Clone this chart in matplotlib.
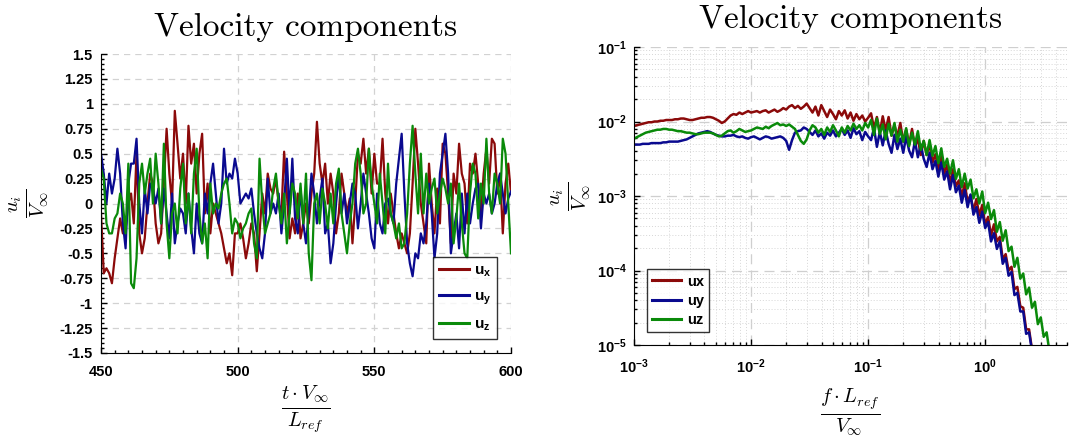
import numpy as np
import matplotlib
matplotlib.use("Agg")
import matplotlib.pyplot as plt
from matplotlib.ticker import MultipleLocator, FixedLocator, LogLocator, FuncFormatter, NullFormatter

# ---- time signal (t*Vinf/Lref = 450 ... 600, unit step) ----
t_start = 450
ux = [-0.10, -0.70, -0.65, -0.70, -0.80, -0.55, -0.35, -0.15, -0.30, -0.25,
      0.00, 0.10, -0.20, 0.50, -0.30, -0.50, -0.35, 0.00, 0.30, 0.20,
      -0.20, -0.40, -0.30, 0.20, 0.75, 0.30, 0.00, 0.93, 0.60, 0.25,
      0.50, 0.00, 0.78, 0.40, 0.60, 0.10, 0.50, 0.70, -0.10, 0.20,
      -0.30, 0.00, -0.10, -0.20, -0.30, -0.45, -0.60, -0.50, -0.72, -0.30,
      -0.30, -0.20, -0.35, -0.55, -0.40, -0.20, -0.30, -0.68, -0.30, 0.10,
      -0.10, 0.30, 0.15, 0.10, 0.25, 0.00, -0.10, 0.52, 0.10, -0.35,
      -0.15, -0.30, 0.10, -0.35, -0.20, 0.00, -0.20, 0.10, 0.30, 0.82,
      0.40, 0.20, 0.40, 0.00, 0.30, 0.10, -0.30, -0.10, 0.30, 0.10,
      -0.10, 0.05, -0.40, 0.00, 0.50, 0.40, 0.65, 0.30, 0.55, 0.10,
      0.50, 0.20, 0.20, 0.65, 0.10, -0.20, 0.10, -0.10, -0.30, -0.45,
      -0.30, -0.40, -0.50, -0.30, 0.20, 0.75, 0.40, 0.00, -0.20, -0.40,
      0.40, 0.00, -0.30, 0.15, -0.20, 0.60, 0.50, 0.10, -0.40, 0.30,
      0.10, 0.60, 0.30, 0.20, -0.20, 0.40, 0.30, 0.50, 0.20, -0.10,
      0.30, 0.55, 0.20, 0.65, 0.60, 0.10, 0.30, -0.30, 0.20, 0.40,
      0.10]
uy = [0.50, 0.30, 0.00, 0.30, 0.10, 0.25, 0.55, 0.30, -0.20, -0.45,
      0.20, 0.40, 0.40, 0.65, 0.00, -0.30, 0.15, -0.10, 0.20, 0.15,
      0.00, 0.15, -0.20, 0.15, -0.10, -0.35, 0.10, -0.40, -0.20, -0.05,
      -0.10, -0.30, 0.10, -0.25, -0.50, 0.00, -0.30, -0.40, 0.10, -0.10,
      0.20, 0.40, 0.10, -0.20, 0.00, 0.55, 0.20, 0.30, 0.25, 0.45,
      0.30, 0.00, 0.05, 0.10, 0.05, 0.15, -0.10, -0.30, -0.45, -0.55,
      -0.30, 0.25, -0.10, 0.00, -0.10, 0.10, -0.30, 0.00, 0.45, -0.10,
      0.45, -0.15, -0.30, 0.15, -0.20, -0.40, -0.10, 0.30, 0.10, -0.20,
      0.05, 0.25, -0.30, -0.20, -0.60, -0.40, 0.00, 0.30, -0.10, 0.10,
      -0.20, 0.00, 0.20, 0.10, -0.25, 0.00, 0.30, 0.10, -0.10, -0.35,
      -0.45, 0.10, -0.20, -0.30, 0.00, 0.05, -0.10, -0.20, 0.20, 0.45,
      0.70, 0.10, -0.40, -0.60, -0.73, -0.50, -0.55, -0.30, -0.40, -0.20,
      0.20, -0.10, -0.55, -0.30, 0.30, 0.50, 0.70, 0.30, -0.50, -0.30,
      -0.10, -0.45, 0.10, -0.30, 0.10, -0.20, 0.00, 0.15, 0.20, -0.25,
      0.10, 0.00, 0.10, -0.10, 0.00, 0.20, 0.30, 0.10, -0.10, 0.05,
      0.12]
uz = [0.35, 0.25, -0.20, -0.30, -0.30, -0.15, -0.10, 0.10, 0.00, -0.30,
      0.40, -0.80, -0.85, -0.55, 0.20, 0.40, 0.10, 0.30, 0.45, 0.00,
      0.50, 0.20, -0.20, 0.60, -0.20, -0.55, -0.10, 0.00, -0.30, 0.15,
      0.40, -0.20, 0.10, -0.30, 0.30, 0.55, -0.10, -0.40, -0.20, -0.55,
      0.20, -0.10, 0.00, -0.05, 0.10, 0.20, 0.25, 0.00, -0.30, -0.15,
      -0.20, -0.35, -0.25, -0.20, -0.10, -0.05, -0.40, -0.55, 0.45, 0.00,
      -0.30, -0.20, -0.10, 0.15, 0.30, 0.00, -0.20, 0.10, -0.40, -0.10,
      0.20, 0.10, -0.15, 0.20, -0.20, 0.30, -0.50, -0.77, 0.00, 0.10,
      -0.20, 0.15, 0.00, -0.25, 0.10, -0.20, 0.20, 0.35, -0.10, -0.30,
      -0.50, -0.20, 0.00, 0.40, 0.55, 0.30, -0.10, 0.00, 0.55, 0.20,
      0.00, -0.20, 0.30, 0.00, -0.30, 0.40, -0.10, -0.20, -0.35, -0.20,
      -0.45, -0.40, -0.10, 0.40, 0.78, 0.30, -0.10, 0.50, -0.10, 0.30,
      0.00, 0.15, 0.25, -0.10, 0.10, 0.25, 0.15, 0.00, 0.20, -0.40,
      -0.15, 0.20, -0.20, -0.50, -0.55, 0.10, 0.40, 0.30, -0.15, 0.20,
      0.00, 0.65, 0.10, -0.10, 0.30, 0.20, 0.00, 0.65, 0.50, 0.00,
      -0.50]

# ---- spectra: log10 amplitude on a log10(f*Lref/Vinf) grid from -3, step 0.025 ----
logf_start, logf_step = -3.0, 0.025
ux_spec_log = [
    -2.06, -2.05, -2.04, -2.03, -2.02, -2.01, -2.01, -2.00, -2.00, -1.99,
    -1.99, -1.98, -1.98, -1.98, -1.97, -1.97, -1.96, -1.96, -1.97, -1.98,
    -1.98, -1.97, -1.96, -1.95, -1.95,
    -1.94, -1.94, -1.95, -1.97, -1.99, -2.02, -2.00, -1.96, -1.92, -1.90,
    -1.91, -1.88, -1.90, -1.88, -1.86, -1.88,
    -1.87, -1.86, -1.88, -1.86, -1.85, -1.88, -1.86, -1.84, -1.87, -1.85,
    -1.82, -1.84, -1.80, -1.78, -1.82, -1.79, -1.83, -1.80, -1.76, -1.82,
    -1.88, -1.80, -1.92, -1.78, -1.86, -1.94, -1.84, -1.90, -1.97, -1.86,
    -1.92, -1.85, -1.96, -1.88, -1.99, -1.90, -1.97, -1.92, -2.00, -1.95,
    -1.89, -2.09, -1.94, -2.15, -1.93, -2.12, -1.94, -2.19, -2.05, -2.20,
    -2.02, -2.27, -2.11, -2.31, -2.10, -2.34, -2.23, -2.45, -2.26, -2.45,
    -2.30, -2.55, -2.44, -2.64, -2.47, -2.70, -2.58, -2.83, -2.64, -2.87,
    -2.79, -3.01, -2.83, -3.08, -2.99, -3.20, -3.04, -3.26, -3.12, -3.38,
    -3.28, -3.53, -3.38, -3.61, -3.55, -3.85, -3.78, -4.00, -3.95, -4.25,
    -4.22, -4.48, -4.50, -4.79, -4.79, -5.06, -5.12, -5.43]
uy_spec_log = [
    -2.31, -2.31, -2.31, -2.30, -2.30, -2.30, -2.29, -2.29, -2.29, -2.29,
    -2.28, -2.28, -2.27, -2.27, -2.27, -2.27, -2.26, -2.25, -2.24, -2.22,
    -2.20, -2.18, -2.16, -2.15, -2.14,
    -2.13, -2.14, -2.16, -2.18, -2.19, -2.20, -2.20, -2.19, -2.19, -2.18,
    -2.20, -2.21, -2.20, -2.22, -2.23, -2.21,
    -2.20, -2.22, -2.24, -2.22, -2.20, -2.21, -2.23, -2.22, -2.21, -2.20,
    -2.22, -2.26, -2.38, -2.25, -2.15, -2.13, -2.12, -2.08, -2.10, -2.14,
    -2.18, -2.12, -2.20, -2.16, -2.23, -2.15, -2.19, -2.12, -2.20, -2.15,
    -2.10, -2.18, -2.12, -2.22, -2.09, -2.17, -2.13, -2.25, -2.14, -2.20,
    -2.25, -2.09, -2.34, -2.14, -2.32, -2.12, -2.30, -2.42, -2.18, -2.37,
    -2.23, -2.42, -2.20, -2.39, -2.48, -2.26, -2.48, -2.31, -2.50, -2.61,
    -2.42, -2.64, -2.53, -2.74, -2.55, -2.78, -2.67, -2.91, -2.72, -2.95,
    -2.86, -3.09, -2.92, -3.15, -2.98, -3.25, -3.15, -3.36, -3.21, -3.43,
    -3.35, -3.61, -3.50, -3.71, -3.61, -3.91, -3.83, -4.07, -4.02, -4.33,
    -4.30, -4.55, -4.55, -4.85, -4.83, -5.08, -5.12, -5.38]
uz_spec_log = [
    -2.23, -2.21, -2.19, -2.17, -2.15, -2.14, -2.13, -2.12, -2.11, -2.11,
    -2.10, -2.10, -2.11, -2.11, -2.12, -2.13, -2.13, -2.14, -2.15, -2.15,
    -2.16, -2.17, -2.17, -2.16, -2.15,
    -2.15, -2.15, -2.16, -2.18, -2.20, -2.19, -2.16, -2.13, -2.12, -2.15,
    -2.13, -2.10, -2.12, -2.14, -2.13, -2.12,
    -2.10, -2.08, -2.09, -2.10, -2.07, -2.09, -2.06, -2.04, -2.02, -2.05,
    -2.04, -2.06, -2.04, -2.07, -2.10, -2.18, -2.26, -2.30, -2.24, -2.12,
    -2.05, -2.08, -2.15, -2.10, -2.18, -2.08, -2.14, -2.05, -2.12, -2.20,
    -2.08, -2.15, -2.06, -2.12, -2.03, -2.10, -2.05, -2.12, -2.02, -2.08,
    -1.98, -2.18, -1.96, -2.17, -2.04, -2.24, -2.03, -2.19, -2.02, -2.27,
    -2.11, -2.27, -2.09, -2.33, -2.15, -2.31, -2.13, -2.38, -2.26, -2.45,
    -2.25, -2.46, -2.33, -2.56, -2.36, -2.61, -2.50, -2.70, -2.52, -2.77,
    -2.64, -2.88, -2.70, -2.90, -2.78, -3.03, -2.91, -3.10, -2.94, -3.23,
    -3.09, -3.31, -3.19, -3.48, -3.35, -3.60, -3.46, -3.74, -3.68, -3.95,
    -3.83, -4.11, -4.04, -4.32, -4.23, -4.50, -4.42, -4.72, -4.63, -4.89,
    -4.83, -5.10, -5.02, -5.29]

series_names_t = [r"$\mathbf{u_x}$", r"$\mathbf{u_y}$", r"$\mathbf{u_z}$"]
series_names_f = ["ux", "uy", "uz"]
colors = ["#8b0a0a", "#0a0a8f", "#0a8a0a"]

plt.rcParams.update({
    "mathtext.fontset": "custom",
    "mathtext.rm": "cmr10",
    "mathtext.it": "cmmi10",
    "mathtext.bf": "Liberation Sans:bold",
    "mathtext.cal": "cmsy10",
    "mathtext.fallback": "cm",
    "font.family": ["Liberation Sans", "DejaVu Sans"],
    "font.weight": "bold",
    "axes.unicode_minus": False,
})

fig = plt.figure(figsize=(10.71, 4.37), dpi=100)
ax1 = fig.add_axes([101 / 1071, 1 - 353 / 437, 410 / 1071, 299 / 437])
ax2 = fig.add_axes([634 / 1071, 1 - 345 / 437, 433 / 1071, 298 / 437])

# --- left: time history ---
t = t_start + np.arange(len(ux))
for vals, c, name in zip([ux, uy, uz], colors, series_names_t):
    ax1.plot(t, vals, color=c, lw=1.6, label=name)

ax1.set_xlim(450, 600)
ax1.set_ylim(-1.5, 1.5)
ax1.xaxis.set_major_locator(MultipleLocator(50))
ax1.xaxis.set_minor_locator(MultipleLocator(5))
ax1.yaxis.set_major_locator(MultipleLocator(0.25))
ax1.yaxis.set_minor_locator(MultipleLocator(0.05))
ax1.yaxis.set_major_formatter(FuncFormatter(lambda v, p: "%g" % v))
ax1.grid(True, which="major", ls=(0, (5, 4)), color="#d2d2d2", lw=0.9)
ax1.tick_params(which="both", direction="in", labelsize=10.5, width=1)
ax1.tick_params(which="major", length=4)
ax1.tick_params(which="minor", length=2)
ax1.tick_params(axis="y", pad=6)
ax1.tick_params(axis="x", pad=9)
for s in ["top", "right"]:
    ax1.spines[s].set_visible(False)
ax1.set_title("Velocity components", fontfamily="cmr10", fontweight="normal",
              fontsize=24, pad=13)
ax1.set_xlabel(r"$\frac{t \cdot V_\infty}{L_{ref}}$", fontsize=21)
ax1.set_ylabel(r"$\frac{u_i}{V_\infty}$", fontsize=21)
ax1.xaxis.set_label_coords(0.5, -0.10)
ax1.yaxis.set_label_coords(-0.124, 0.5)
leg1 = ax1.legend(loc="lower right", fontsize=11, fancybox=False, edgecolor="black",
                  handlelength=2.0, borderaxespad=0.9, labelspacing=0.7,
                  handletextpad=0.3, borderpad=0.4)
leg1.get_frame().set_linewidth(1.0)
for line in leg1.get_lines():
    line.set_linewidth(2.2)

# --- right: spectra ---
for vals, c, name in zip([ux_spec_log, uy_spec_log, uz_spec_log], colors, series_names_f):
    logf = logf_start + logf_step * np.arange(len(vals))
    ax2.plot(10 ** logf, 10 ** np.array(vals), color=c, lw=1.8, label=name)

ax2.set_xscale("log")
ax2.set_yscale("log")
ax2.set_xlim(1e-3, 5)
ax2.set_ylim(1e-5, 1e-1)
ax2.xaxis.set_major_locator(FixedLocator([1e-3, 1e-2, 1e-1, 1e0]))
ax2.yaxis.set_major_locator(FixedLocator([1e-5, 1e-4, 1e-3, 1e-2, 1e-1]))
ax2.xaxis.set_minor_locator(LogLocator(base=10, subs=np.arange(2, 10), numticks=20))
ax2.yaxis.set_minor_locator(LogLocator(base=10, subs=np.arange(2, 10), numticks=20))
pow_fmt = FuncFormatter(lambda v, p: r"$\mathbf{10^{%d}}$" % round(np.log10(v)))
ax2.xaxis.set_major_formatter(pow_fmt)
ax2.yaxis.set_major_formatter(pow_fmt)
ax2.xaxis.set_minor_formatter(NullFormatter())
ax2.yaxis.set_minor_formatter(NullFormatter())
ax2.grid(True, which="major", ls=(0, (8, 5)), color="#cfcfcf", lw=0.9)
ax2.grid(True, which="minor", ls=(0, (1, 2)), color="#d6d6d6", lw=0.7)
ax2.tick_params(which="both", direction="in", labelsize=10.5, width=1)
ax2.tick_params(which="major", length=4)
ax2.tick_params(which="minor", length=2)
ax2.tick_params(axis="y", pad=5)
ax2.tick_params(axis="x", pad=9)
for s in ["top", "right"]:
    ax2.spines[s].set_visible(False)
ax2.set_title("Velocity components", fontfamily="cmr10", fontweight="normal",
              fontsize=24, pad=14)
ax2.set_xlabel(r"$\frac{f \cdot L_{ref}}{V_\infty}$", fontsize=21)
ax2.set_ylabel(r"$\frac{u_i}{V_\infty}$", fontsize=21)
ax2.xaxis.set_label_coords(0.5, -0.14)
ax2.yaxis.set_label_coords(-0.097, 0.5)
leg2 = ax2.legend(loc="lower left", fontsize=10.5, fancybox=False, edgecolor="black",
                  handlelength=2.0, borderaxespad=0.9, labelspacing=0.35,
                  handletextpad=0.4, borderpad=0.35)
leg2.get_frame().set_linewidth(1.0)
for line in leg2.get_lines():
    line.set_linewidth(2.2)

fig.savefig("out.png", dpi=100)
